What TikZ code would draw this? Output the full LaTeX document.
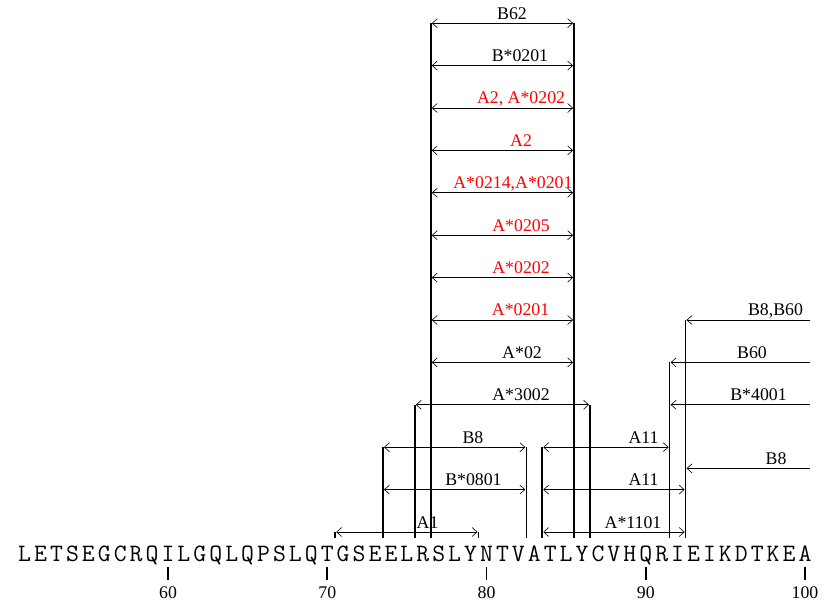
\documentclass[tikz,border=0pt]{standalone}
\usepackage{fontspec}
\setmainfont{Liberation Serif}
\usetikzlibrary{arrows.meta}
\definecolor{hlared}{HTML}{FF0000}

\tikzset{
    seq/.style={font=\ttfamily\fontsize{25}{25}\selectfont, anchor=base, inner sep=0pt},
    num/.style={font=\fontsize{17.8}{17.8}\selectfont, anchor=base, inner sep=0pt},
    tag/.style={num, yshift=4pt},
    bar/.style={line width=1.6pt},
    pep/.style={line width=0.6pt, shorten <=1pt, shorten >=1pt,
        {Straight Barb[length=5pt,width=9pt]}-{Straight Barb[length=5pt,width=9pt]}},
    lpep/.style={line width=0.6pt, shorten >=1pt, -{Straight Barb[length=5pt,width=9pt]}},
}

\begin{document}
\begin{tikzpicture}[x=15.925pt, y=42.4pt]
    \useasboundingbox (49.451,-1.722) rectangle (101.633,12.547);

    % Sequence, residues 51-100
    \node[seq] (r51) at (51,-0.7075) {L}; \node[seq] (r52) at (52,-0.7075) {E};
    \node[seq] (r53) at (53,-0.7075) {T}; \node[seq] (r54) at (54,-0.7075) {S};
    \node[seq] (r55) at (55,-0.7075) {E}; \node[seq] (r56) at (56,-0.7075) {G};
    \node[seq] (r57) at (57,-0.7075) {C}; \node[seq] (r58) at (58,-0.7075) {R};
    \node[seq] (r59) at (59,-0.7075) {Q}; \node[seq] (r60) at (60,-0.7075) {I};
    \node[seq] (r61) at (61,-0.7075) {L}; \node[seq] (r62) at (62,-0.7075) {G};
    \node[seq] (r63) at (63,-0.7075) {Q}; \node[seq] (r64) at (64,-0.7075) {L};
    \node[seq] (r65) at (65,-0.7075) {Q}; \node[seq] (r66) at (66,-0.7075) {P};
    \node[seq] (r67) at (67,-0.7075) {S}; \node[seq] (r68) at (68,-0.7075) {L};
    \node[seq] (r69) at (69,-0.7075) {Q}; \node[seq] (r70) at (70,-0.7075) {T};
    \node[seq] (r71) at (71,-0.7075) {G}; \node[seq] (r72) at (72,-0.7075) {S};
    \node[seq] (r73) at (73,-0.7075) {E}; \node[seq] (r74) at (74,-0.7075) {E};
    \node[seq] (r75) at (75,-0.7075) {L}; \node[seq] (r76) at (76,-0.7075) {R};
    \node[seq] (r77) at (77,-0.7075) {S}; \node[seq] (r78) at (78,-0.7075) {L};
    \node[seq] (r79) at (79,-0.7075) {Y}; \node[seq] (r80) at (80,-0.7075) {N};
    \node[seq] (r81) at (81,-0.7075) {T}; \node[seq] (r82) at (82,-0.7075) {V};
    \node[seq] (r83) at (83,-0.7075) {A}; \node[seq] (r84) at (84,-0.7075) {T};
    \node[seq] (r85) at (85,-0.7075) {L}; \node[seq] (r86) at (86,-0.7075) {Y};
    \node[seq] (r87) at (87,-0.7075) {C}; \node[seq] (r88) at (88,-0.7075) {V};
    \node[seq] (r89) at (89,-0.7075) {H}; \node[seq] (r90) at (90,-0.7075) {Q};
    \node[seq] (r91) at (91,-0.7075) {R}; \node[seq] (r92) at (92,-0.7075) {I};
    \node[seq] (r93) at (93,-0.7075) {E}; \node[seq] (r94) at (94,-0.7075) {I};
    \node[seq] (r95) at (95,-0.7075) {K}; \node[seq] (r96) at (96,-0.7075) {D};
    \node[seq] (r97) at (97,-0.7075) {T}; \node[seq] (r98) at (98,-0.7075) {K};
    \node[seq] (r99) at (99,-0.7075) {E}; \node[seq] (r100) at (100,-0.7075) {A};

    % Position scale
    \draw[bar] (60,-0.825) -- (60,-1.132);
    \draw[bar] (70,-0.825) -- (70,-1.132);
    \draw[bar] (80,-0.825) -- (80,-1.132);
    \draw[bar] (90,-0.825) -- (90,-1.132);
    \draw[bar] (100,-0.825) -- (100,-1.132);
    \node[num] (n60) at (60,-1.557) {60};
    \node[num] (n70) at (70,-1.557) {70};
    \node[num] (n80) at (80,-1.557) {80};
    \node[num] (n90) at (90,-1.557) {90};
    \node[num] (n100) at (100,-1.557) {100};

    % Epitope boundaries (foot of each bar) and rows
    \coordinate (k70) at (70.5,-0.1415); \coordinate (k73) at (73.5,-0.1415);
    \coordinate (k75) at (75.5,-0.1415); \coordinate (k76) at (76.5,-0.1415);
    \coordinate (k79) at (79.5,-0.1415); \coordinate (k82) at (82.5,-0.1415);
    \coordinate (k83) at (83.5,-0.1415); \coordinate (k85) at (85.5,-0.1415);
    \coordinate (k86) at (86.5,-0.1415); \coordinate (k91) at (91.5,-0.1415);
    \coordinate (k92) at (92.5,-0.1415); \coordinate (kend) at (100.31,-0.1415);
    \coordinate (y0) at (0,0);   \coordinate (y1) at (0,1);   \coordinate (y1h) at (0,1.5);
    \coordinate (y2) at (0,2);   \coordinate (y3) at (0,3);   \coordinate (y4) at (0,4);
    \coordinate (y5) at (0,5);   \coordinate (y6) at (0,6);   \coordinate (y7) at (0,7);
    \coordinate (y8) at (0,8);   \coordinate (y9) at (0,9);   \coordinate (y10) at (0,10);
    \coordinate (y11) at (0,11); \coordinate (y12) at (0,12);

    % Labels
    \node[tag] (lB62) at (81.60,12) {B62};
    \node[tag] (lB0201) at (82.10,11) {B*0201};
    \node[tag, text=hlared] (lA2A0202) at (82.17,10) {A2, A*0202};
    \node[tag, text=hlared] (lA2) at (82.17,9) {A2};
    \node[tag, text=hlared] (lA0214) at (81.66,8) {A*0214,A*0201};
    \node[tag, text=hlared] (lA0205) at (82.17,7) {A*0205};
    \node[tag, text=hlared] (lA0202) at (82.17,6) {A*0202};
    \node[tag, text=hlared] (lA0201) at (82.14,5) {A*0201};
    \node[tag] (lA02) at (82.23,4) {A*02};
    \node[tag] (lA3002) at (82.17,3) {A*3002};
    \node[tag] (lB8a) at (79.15,2) {B8};
    \node[tag] (lB0801) at (79.18,1) {B*0801};
    \node[tag] (lA1) at (76.30,0) {A1};
    \node[tag] (lA11a) at (89.86,2) {A11};
    \node[tag] (lA11b) at (89.86,1) {A11};
    \node[tag] (lA1101) at (89.20,0) {A*1101};
    \node[tag] (lB8B60) at (98.15,5) {B8,B60};
    \node[tag] (lB60) at (96.67,4) {B60};
    \node[tag] (lB4001) at (97.08,3) {B*4001};
    \node[tag] (lB8b) at (98.18,1.5) {B8};

    % Spans
    \draw[pep] (k76 |- y12) -- (k85 |- y12);
    \draw[pep] (k76 |- y11) -- (k85 |- y11);
    \draw[pep] (k76 |- y10) -- (k85 |- y10);
    \draw[pep] (k76 |- y9) -- (k85 |- y9);
    \draw[pep] (k76 |- y8) -- (k85 |- y8);
    \draw[pep] (k76 |- y7) -- (k85 |- y7);
    \draw[pep] (k76 |- y6) -- (k85 |- y6);
    \draw[pep] (k76 |- y5) -- (k85 |- y5);
    \draw[pep] (k76 |- y4) -- (k85 |- y4);
    \draw[pep] (k75 |- y3) -- (k86 |- y3);
    \draw[pep] (k73 |- y2) -- (k82 |- y2);
    \draw[pep] (k73 |- y1) -- (k82 |- y1);
    \draw[pep] (k70 |- y0) -- (k79 |- y0);
    \draw[pep] (k83 |- y2) -- (k91 |- y2);
    \draw[pep] (k83 |- y1) -- (k92 |- y1);
    \draw[pep] (k83 |- y0) -- (k92 |- y0);
    \draw[lpep] (kend |- y5) -- (k92 |- y5);
    \draw[lpep] (kend |- y4) -- (k91 |- y4);
    \draw[lpep] (kend |- y3) -- (k91 |- y3);
    \draw[lpep] (kend |- y1h) -- (k92 |- y1h);

    % Boundary bars
    \draw[bar] (k70) -- (k70 |- y0);
    \draw[bar] (k79) -- (k79 |- y0);
    \draw[bar] (k73) -- (k73 |- y2);
    \draw[bar] (k82) -- (k82 |- y2);
    \draw[bar] (k83) -- (k83 |- y2);
    \draw[bar] (k75) -- (k75 |- y3);
    \draw[bar] (k86) -- (k86 |- y3);
    \draw[bar] (k76) -- (k76 |- y12);
    \draw[bar] (k85) -- (k85 |- y12);
    \draw[bar] (k91) -- (k91 |- y4);
    \draw[bar] (k92) -- (k92 |- y5);
\end{tikzpicture}
\end{document}
